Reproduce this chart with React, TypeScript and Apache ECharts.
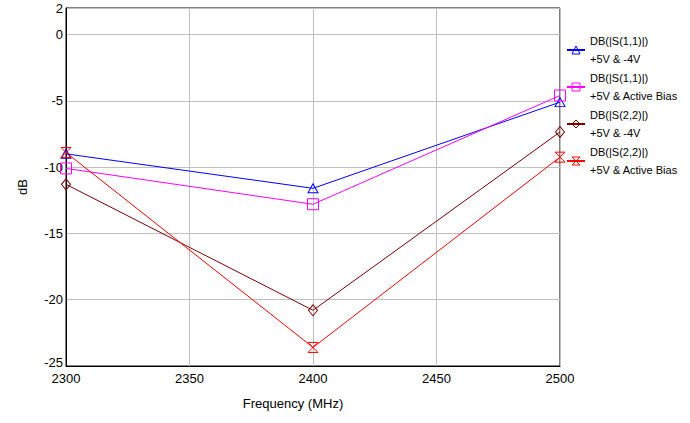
import React, { useEffect, useRef } from "react";
import * as echarts from "echarts";

const freqs = [2300, 2400, 2500];
const s11Neg4V = [-9.0, -11.6, -5.1];
const s11Active = [-10.1, -12.8, -4.6];
const s22Neg4V = [-11.3, -20.8, -7.35];
const s22Active = [-8.9, -23.6, -9.25];

const seriesNames = [
  "DB(|S(1,1)|)\n+5V & -4V",
  "DB(|S(1,1)|)\n+5V & Active Bias",
  "DB(|S(2,2)|)\n+5V & -4V",
  "DB(|S(2,2)|)\n+5V & Active Bias",
];
const seriesColors = ["#0000ff", "#ff00ff", "#800000", "#ff0000"];
const yTicks = [-25, -20, -15, -10, -5, 0, 2];

const FONT = "'Liberation Sans', Arial, sans-serif";

export default function App() {
  const ref = useRef<HTMLDivElement>(null);
  useEffect(() => {
    if (!ref.current) return;
    const chart = echarts.init(ref.current, null, { renderer: "svg" });
    const mk = (name: string, vals: number[], color: string, symbol: string, size: number | number[]) => ({
      name,
      type: "line",
      data: freqs.map((f, i) => [f, vals[i]]),
      symbol,
      symbolSize: size,
      showAllSymbol: true,
      lineStyle: { color, width: 1 },
      itemStyle: { color: "transparent", borderColor: color, borderWidth: 1 },
      emphasis: { disabled: true },
    });
    chart.setOption({
      animation: false,
      textStyle: { fontFamily: FONT },
      grid: {
        left: 66,
        right: 130,
        top: 8,
        bottom: 57,
        show: true,
        borderColor: "#000",
        borderWidth: 1,
        backgroundColor: "transparent",
      },
      legend: {
        orient: "vertical",
        left: 561,
        top: 18,
        itemWidth: 18,
        itemHeight: 10,
        itemGap: -17,
        selectedMode: false,
        textStyle: {
          fontFamily: FONT,
          fontSize: 11,
          color: "#000",
          lineHeight: 18,
          padding: [18, 0, 0, 0],
        },
        data: seriesNames.map((n, i) => ({
          name: n,
          itemStyle: { color: "transparent", borderColor: seriesColors[i], borderWidth: 1 },
        })),
      },
      xAxis: {
        type: "value",
        min: 2300,
        max: 2500,
        interval: 50,
        name: "Frequency (MHz)",
        nameLocation: "middle",
        nameGap: 31,
        nameTextStyle: { fontFamily: FONT, fontSize: 13, color: "#000", padding: [0, 40, 0, 0] },
        axisLine: { show: true, onZero: false, lineStyle: { color: "#000", width: 1 } },
        axisTick: { show: false },
        axisLabel: {
          fontFamily: FONT,
          fontSize: 13,
          color: "#000",
          margin: 6,
          formatter: (v: number) => String(v),
        },
        splitLine: { show: true, lineStyle: { color: "#c0c0c0", width: 1 } },
      },
      yAxis: {
        type: "value",
        min: -25,
        max: 2,
        interval: 5,
        name: "dB",
        nameLocation: "middle",
        nameGap: 37,
        nameTextStyle: { fontFamily: FONT, fontSize: 13, color: "#000" },
        axisLine: { show: true, onZero: false, lineStyle: { color: "#000", width: 1 } },
        axisTick: { show: false },
        axisLabel: {
          fontFamily: FONT,
          fontSize: 13,
          color: "#000",
          margin: 3,
          formatter: (v: number) =>
            v === -25 ? "{low|-25}" : yTicks.includes(v) ? String(v) : "",
          rich: {
            low: { fontFamily: FONT, fontSize: 13, color: "#000", padding: [0, 0, 8, 0] },
          },
        },
        splitLine: { show: true, lineStyle: { color: "#c0c0c0", width: 1 } },
      },
      series: [
        mk(seriesNames[0], s11Neg4V, seriesColors[0], "triangle", [10, 9]),
        mk(seriesNames[1], s11Active, seriesColors[1], "rect", 11),
        mk(seriesNames[2], s22Neg4V, seriesColors[2], "diamond", [9, 11]),
        mk(seriesNames[3], s22Active, seriesColors[3], "path://M0,0 L10,0 L0,10 L10,10 Z", [10, 10]),
      ],
    });
    return () => chart.dispose();
  }, []);
  return <div ref={ref} style={{ width: 690, height: 423, position: "absolute", left: 0, top: 0 }} />;
}
